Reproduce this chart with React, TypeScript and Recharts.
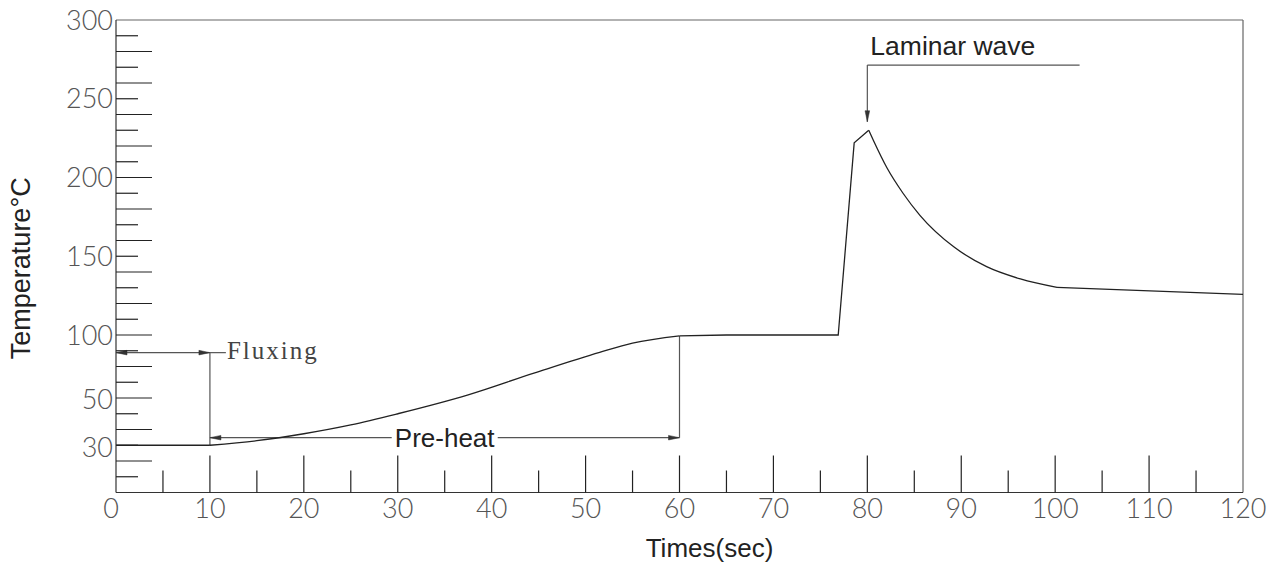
import React from 'react';
import { LineChart, Line, XAxis, YAxis, ReferenceLine, Label } from 'recharts';

// ---------- data ----------
const xTicks = [0, 5, 10, 15, 20, 25, 30, 35, 40, 45, 50, 55, 60, 65, 70, 75, 80, 85, 90, 95, 100, 105, 110, 115, 120];
const xTickLabels = [0, 10, 20, 30, 40, 50, 60, 70, 80, 90, 100, 110, 120];
const yTicks = [0, 10, 20, 30, 40, 50, 60, 70, 80, 90, 100, 110, 120, 130, 140, 150, 160, 170, 180, 190, 200, 210, 220, 230, 240, 250, 260, 270, 280, 290, 300];
const yTickLabels = [30, 50, 100, 150, 200, 250, 300];

// temperature profile (time s, temperature °C)
const fluxingSeries = [
  { s: 0, t: 30 },
  { s: 10, t: 30 },
];
const preheatSeries = [
  { s: 10, t: 30 },
  { s: 15, t: 32.9 },
  { s: 20, t: 37.3 },
  { s: 25, t: 42.9 },
  { s: 30, t: 50 },
  { s: 37.5, t: 62 },
  { s: 44.5, t: 75.8 },
  { s: 51.5, t: 89 },
  { s: 55, t: 94.8 },
  { s: 60, t: 99.4 },
];
const soakSeries = [
  { s: 60, t: 99.4 },
  { s: 65, t: 100 },
  { s: 76.9, t: 100 },
  { s: 78.6, t: 222 },
  { s: 80.15, t: 230 },
];
const decaySeries = [
  { s: 80.15, t: 230 },
  { s: 80.65, t: 223.5 },
  { s: 82.1, t: 206 },
  { s: 83.8, t: 190 },
  { s: 85.6, t: 176 },
  { s: 89.2, t: 156 },
  { s: 92.7, t: 143.4 },
  { s: 96.3, t: 135.6 },
  { s: 100.2, t: 130.2 },
];
const tailSeries = [
  { s: 100.2, t: 130.2 },
  { s: 120, t: 125.8 },
];

// annotation anchors (data space)
const fluxingStart = 0;
const fluxingEnd = 10;
const fluxingLeaderEnd = 11.7;
const fluxingLevel = 88.8;
const fluxingBase = 30;
const preheatStart = 10;
const preheatEnd = 60;
const preheatLevel = 34.8;
const preheatTop = 99.4;
const laminarTime = 80;
const laminarLeaderLevel = 271.4;
const laminarLeaderEnd = 102.6;
const laminarArrowTip = 235.4;

const xDomain = [0, 120];
const yDomain = [0, 300];

// ---------- styles ----------
const tickFont = { fontFamily: 'Lato, "DejaVu Sans", sans-serif', fontWeight: 300, fontSize: 27, fill: '#555' };
const titleFont = { fontFamily: '"Liberation Sans", Arial, sans-serif', fontSize: 26, fill: '#222' };
const yLabelShift: Record<number, number> = { 50: -14, 30: 2 };
const annStroke = '#555';
const curveStroke = '#222';

function arrowHead(tipX: number, tipY: number, fromX: number, fromY: number, color: string) {
  const dx = tipX - fromX;
  const dy = tipY - fromY;
  const len = Math.sqrt(dx * dx + dy * dy) || 1;
  const ux = dx / len;
  const uy = dy / len;
  const L = 11;
  const W = 2.3;
  const bx = tipX - ux * L;
  const by = tipY - uy * L;
  const pts = `${tipX},${tipY} ${bx - uy * W},${by + ux * W} ${bx + uy * W},${by - ux * W}`;
  return <polygon points={pts} fill={color} stroke={color} strokeWidth={0.5} />;
}

type ShapeOpts = {
  startArrow?: boolean;
  endArrow?: boolean;
  text?: string;
  textMode?: 'center' | 'after' | 'above';
  textStyle?: any;
  gap?: number;
};

const makeShape = (opts: ShapeOpts) => (p: any) => {
  const { x1, y1, x2, y2 } = p;
  const mx = (x1 + x2) / 2;
  return (
    <g>
      <line x1={x1} y1={y1} x2={x2} y2={y2} stroke={annStroke} strokeWidth={1.2} />
      {opts.startArrow && arrowHead(x1, y1, x2, y2, '#333')}
      {opts.endArrow && arrowHead(x2, y2, x1, y1, '#333')}
      {opts.text && opts.textMode === 'center' && (
        <g>
          <rect x={mx - (opts.gap || 0) / 2} y={y1 - 6} width={opts.gap || 0} height={12} fill="#fff" />
          <text x={mx} y={y1} dy="0.35em" textAnchor="middle" style={opts.textStyle}>
            {opts.text}
          </text>
        </g>
      )}
      {opts.text && opts.textMode === 'after' && (
        <text x={x2 + 1} y={y2} dy="0.27em" textAnchor="start" style={opts.textStyle}>
          {opts.text}
        </text>
      )}
      {opts.text && opts.textMode === 'above' && (
        <text x={x1 + 3} y={y1 - 10.5} textAnchor="start" style={opts.textStyle}>
          {opts.text}
        </text>
      )}
    </g>
  );
};

const XTick = (props: any) => {
  const { x, y, payload } = props;
  const v = payload.value;
  const major = v % 10 === 0;
  const len = major ? 37 : 22;
  return (
    <g>
      {v > 0 && v < 120 && <line x1={x} x2={x} y1={y} y2={y - len} stroke="#222" strokeWidth={1.2} />}
      {xTickLabels.includes(v) && (
        <text x={v === 0 ? x - 5 : x} y={y + 25} textAnchor="middle" style={tickFont}>
          {v}
        </text>
      )}
    </g>
  );
};

const YTick = (props: any) => {
  const { x, y, payload } = props;
  const v = payload.value;
  const len = v % 20 === 0 ? 36 : 22;
  return (
    <g>
      {v > 0 && v < 300 && <line x1={x} x2={x + len} y1={y} y2={y} stroke="#222" strokeWidth={1.2} />}
      {yTickLabels.includes(v) && (
        <text x={x - 3} y={y + (yLabelShift[v] || 0)} dy="0.36em" textAnchor="end" style={tickFont}>
          {v}
        </text>
      )}
    </g>
  );
};

export default function App() {
  return (
    <div style={{ position: 'absolute', left: 0, top: 0, width: 1280, height: 565, background: '#fff' }}>
      <LineChart width={1280} height={565} margin={{ top: 20, right: 37, left: 0, bottom: 0 }}>
        <XAxis
          type="number"
          dataKey="s"
          domain={xDomain}
          ticks={xTicks}
          interval={0}
          tickSize={0}
          tickMargin={0}
          tickLine={false}
          tick={XTick}
          axisLine={{ stroke: '#333', strokeWidth: 1.2 }}
          height={72.5}
          allowDataOverflow
        >
          <Label
            content={(p: any) => {
              const vb = p.viewBox || {};
              return (
                <text x={vb.x + vb.width / 2 + 30} y={vb.y + vb.height - 8} textAnchor="middle" style={titleFont}>
                  Times(sec)
                </text>
              );
            }}
          />
        </XAxis>
        <YAxis
          type="number"
          dataKey="t"
          domain={yDomain}
          ticks={yTicks}
          interval={0}
          tickSize={0}
          tickMargin={0}
          tickLine={false}
          tick={YTick}
          axisLine={{ stroke: '#333', strokeWidth: 1.2 }}
          width={116}
          allowDataOverflow
        >
          <Label
            content={(p: any) => {
              const vb = p.viewBox || {};
              const cx = vb.x + 21;
              const cy = vb.y + vb.height / 2 + 12;
              return (
                <text x={cx} y={cy} dy="0.35em" textAnchor="middle" transform={`rotate(-90, ${cx}, ${cy})`} style={{ ...titleFont, fontSize: 27 }}>
                  Temperature°C
                </text>
              );
            }}
          />
        </YAxis>

        {/* frame */}
        <ReferenceLine y={300} stroke="#666" strokeWidth={1.2} />
        <ReferenceLine x={120} stroke="#666" strokeWidth={1.2} />

        {/* Fluxing annotation */}
        <ReferenceLine
          segment={[{ x: fluxingStart, y: fluxingLevel }, { x: fluxingEnd, y: fluxingLevel }]}
          shape={makeShape({ startArrow: true, endArrow: true })}
        />
        <ReferenceLine
          segment={[{ x: fluxingEnd, y: fluxingLevel }, { x: fluxingLeaderEnd, y: fluxingLevel }]}
          shape={makeShape({
            text: 'Fluxing',
            textMode: 'after',
            textStyle: { fontFamily: '"Liberation Serif", "DejaVu Serif", serif', fontSize: 25, letterSpacing: 2, fill: '#444' },
          })}
        />
        <ReferenceLine
          segment={[{ x: fluxingEnd, y: fluxingLevel }, { x: fluxingEnd, y: fluxingBase }]}
          shape={makeShape({})}
        />

        {/* Pre-heat annotation */}
        <ReferenceLine
          segment={[{ x: preheatStart, y: preheatLevel }, { x: preheatEnd, y: preheatLevel }]}
          shape={makeShape({
            startArrow: true,
            endArrow: true,
            text: 'Pre-heat',
            textMode: 'center',
            gap: 106,
            textStyle: { ...titleFont, fontSize: 26 },
          })}
        />
        <ReferenceLine
          segment={[{ x: preheatEnd, y: preheatLevel }, { x: preheatEnd, y: preheatTop }]}
          shape={makeShape({})}
        />

        {/* Laminar wave annotation */}
        <ReferenceLine
          segment={[{ x: laminarTime, y: laminarLeaderLevel }, { x: laminarLeaderEnd, y: laminarLeaderLevel }]}
          shape={makeShape({
            text: 'Laminar wave',
            textMode: 'above',
            textStyle: { ...titleFont, fontSize: 26.5 },
          })}
        />
        <ReferenceLine
          segment={[{ x: laminarTime, y: laminarLeaderLevel }, { x: laminarTime, y: laminarArrowTip }]}
          shape={makeShape({ endArrow: true })}
        />

        {/* temperature curve */}
        <Line data={fluxingSeries} dataKey="t" type="linear" stroke={curveStroke} strokeWidth={1.3} dot={false} activeDot={false} isAnimationActive={false} />
        <Line data={preheatSeries} dataKey="t" type="monotone" stroke={curveStroke} strokeWidth={1.3} dot={false} activeDot={false} isAnimationActive={false} />
        <Line data={soakSeries} dataKey="t" type="linear" stroke={curveStroke} strokeWidth={1.3} dot={false} activeDot={false} isAnimationActive={false} />
        <Line data={decaySeries} dataKey="t" type="monotone" stroke={curveStroke} strokeWidth={1.3} dot={false} activeDot={false} isAnimationActive={false} />
        <Line data={tailSeries} dataKey="t" type="linear" stroke={curveStroke} strokeWidth={1.3} dot={false} activeDot={false} isAnimationActive={false} />
      </LineChart>
    </div>
  );
}
